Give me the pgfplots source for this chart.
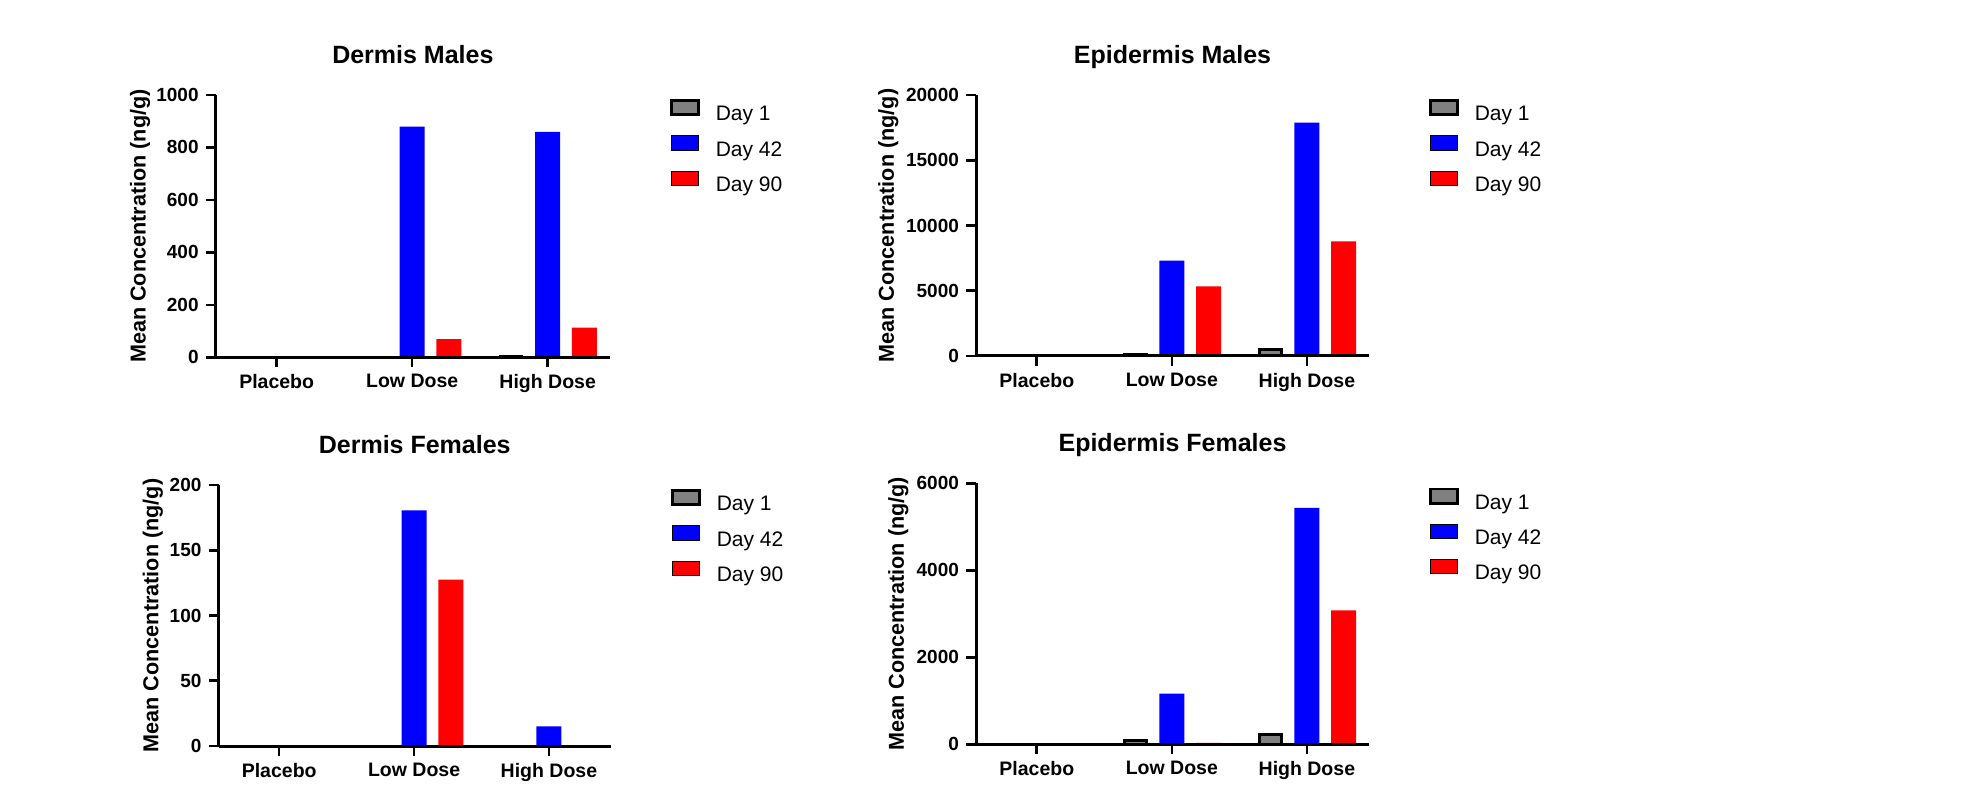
\documentclass[border=0pt]{standalone}
\usepackage{fontspec}
\setmainfont{Liberation Sans}
\usepackage{pgfplots}
\pgfplotsset{compat=1.18}

\definecolor{dayonegray}{RGB}{128,128,128}
\definecolor{dayblue}{RGB}{0,0,255}
\definecolor{dayred}{RGB}{255,0,0}

\pgfplotsset{
  panel/.style={
    scale only axis,
    ybar, bar width=12.5pt,
    axis on top,
    axis x line*=bottom, axis y line*=left,
    axis line style={line width=1.5pt, black},
    tick align=outside,
    major tick length=5pt,
    major tick style={line width=1.3pt, black},
    xmin=-0.45, xmax=2.46, ymin=0,
    xtick={0,1,2},
    xticklabels={Placebo, Low Dose, High Dose},
    xticklabel style={font=\bfseries\fontsize{9.75}{11}\selectfont},
    yticklabel style={font=\bfseries\fontsize{9.5}{11}\selectfont},
    scaled y ticks=false,
    /pgf/number format/1000 sep={},
    /pgf/number format/assume math mode=true,
    title style={font=\bfseries\fontsize{12.5}{14}\selectfont,
      at={(0.5,1)}, anchor=base, yshift=9.8pt},
    ylabel={Mean Concentration (ng/g)},
    ylabel style={font=\bfseries\fontsize{10.8}{12}\selectfont, anchor=center},
    legend style={draw=none, fill=none, at={(1,1)}, anchor=north west,
      xshift=29.65pt, yshift=-1.95pt, inner sep=0pt,
      nodes={inner sep=0pt}, row sep=5.75pt, column sep=8pt,
      font=\fontsize{10.5}{12}\selectfont},
    legend cell align=left,
  },
  swatch/.style={legend image code/.code={
    \draw[##1] (0pt,0.2pt) rectangle (13.65pt,7.25pt);}},
  dayone/.style={fill=dayonegray, draw=black, line width=1.4pt,
    bar width=11pt, bar shift=-18.35pt, swatch},
  dayfortytwo/.style={fill=dayblue, draw=none, bar shift=0pt, swatch},
  dayninety/.style={fill=dayred, draw=none, bar shift=18.35pt, swatch},
}

\begin{document}
\begin{tikzpicture}
\useasboundingbox (0,0) rectangle (987pt,393.5pt);

% Dermis Males
\begin{axis}[panel, at={(107.85pt,214.85pt)}, anchor=south west,
  width=197.15pt, height=131.15pt,
  ymax=1000, ytick={0,200,400,600,800,1000},
  title={Dermis Males},
  ylabel style={at={(axis description cs:-0.192,0.5)}}]
\addplot[dayone] coordinates {(0,0) (1,0) (2,3)};
\addplot[dayfortytwo] coordinates {(0,0) (1,879) (2,859)};
\addplot[dayninety] coordinates {(0,0) (1,69) (2,113)};
\legend{Day 1, Day 42, Day 90}
\end{axis}

% Epidermis Males
\begin{axis}[panel, at={(488pt,215.5pt)}, anchor=south west,
  width=196.5pt, height=130.5pt,
  ymax=20000, ytick={0,5000,10000,15000,20000},
  title={Epidermis Males},
  ylabel style={at={(axis description cs:-0.2232,0.5)}}]
\addplot[dayone] coordinates {(0,0) (1,140) (2,472)};
\addplot[dayfortytwo] coordinates {(0,0) (1,7305) (2,17880)};
\addplot[dayninety] coordinates {(0,0) (1,5338) (2,8787)};
\legend{Day 1, Day 42, Day 90}
\end{axis}

% Dermis Females
\begin{axis}[panel, at={(109.25pt,20.5pt)}, anchor=south west,
  width=196.25pt, height=130.5pt,
  ymax=200, ytick={0,50,100,150,200},
  title={Dermis Females},
  ylabel style={at={(axis description cs:-0.1676,0.5)}}]
\addplot[dayone] coordinates {(0,0) (1,0) (2,0)};
\addplot[dayfortytwo] coordinates {(0,0) (1,180.6) (2,15.1)};
\addplot[dayninety] coordinates {(0,0) (1,127.5) (2,0)};
\legend{Day 1, Day 42, Day 90}
\end{axis}

% Epidermis Females
\begin{axis}[panel, at={(488pt,21.35pt)}, anchor=south west,
  width=196.5pt, height=130.5pt,
  ymax=6000, ytick={0,2000,4000,6000},
  title={Epidermis Females},
  ylabel style={at={(axis description cs:-0.1977,0.5)}}]
\addplot[dayone] coordinates {(0,0) (1,80) (2,234)};
\addplot[dayfortytwo] coordinates {(0,0) (1,1165) (2,5433)};
\addplot[dayninety] coordinates {(0,0) (1,31) (2,3080)};
\legend{Day 1, Day 42, Day 90}
\end{axis}
\end{tikzpicture}
\end{document}
